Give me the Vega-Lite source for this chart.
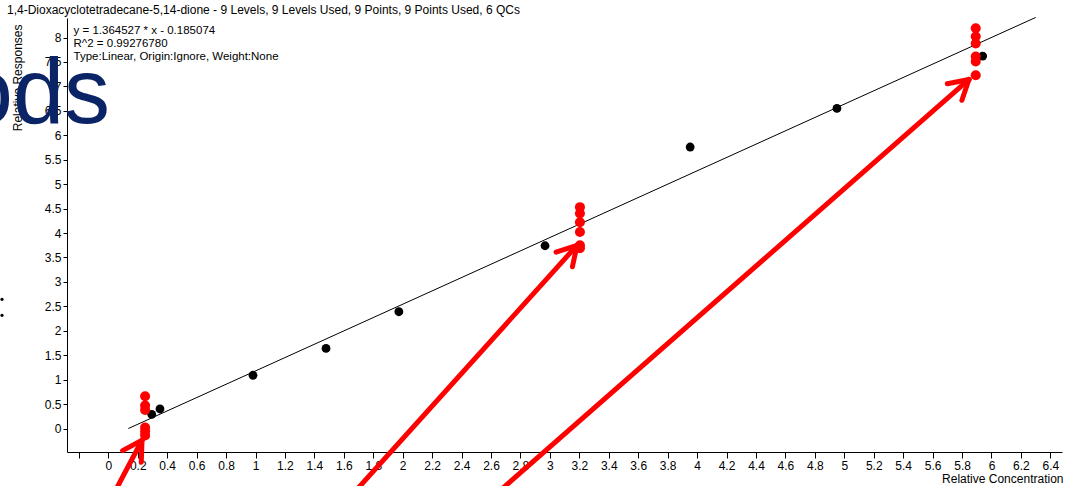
{
  "$schema": "https://vega.github.io/schema/vega-lite/v6.json",
  "width": 995,
  "height": 434,
  "autosize": {"type": "none"},
  "padding": {"left": 67, "top": 18, "right": 5, "bottom": 34},
  "background": "white",
  "config": {
    "view": {"stroke": null},
    "font": "Liberation Sans",
    "axis": {"labelOverlap": false, "labelFlush": false, "labelBound": false, "grid": false}
  },
  "title": {
    "text": "1,4-Dioxacyclotetradecane-5,14-dione - 9 Levels, 9 Levels Used, 9 Points, 9 Points Used, 6 QCs",
    "anchor": "start", "frame": "group", "dx": -60, "dy": 5, "offset": 3,
    "fontSize": 12, "fontWeight": "normal", "color": "#000", "font": "Liberation Sans"
  },
  "datasets": {
    "fit": [{"x": 0.136, "y": 0.0}, {"x": 6.30, "y": 8.411}],
    "std": [
      {"x": 0.295, "y": 0.29}, {"x": 0.351, "y": 0.40}, {"x": 0.983, "y": 1.09},
      {"x": 1.479, "y": 1.64}, {"x": 1.974, "y": 2.39}, {"x": 2.967, "y": 3.74},
      {"x": 3.953, "y": 5.76}, {"x": 4.95, "y": 6.55}, {"x": 5.94, "y": 7.62}
    ],
    "qc": [
      {"x": 0.25, "y": 0.66}, {"x": 0.25, "y": 0.47}, {"x": 0.25, "y": 0.38},
      {"x": 0.25, "y": 0.02}, {"x": 0.25, "y": -0.06}, {"x": 0.25, "y": -0.14},
      {"x": 3.204, "y": 4.53}, {"x": 3.204, "y": 4.40}, {"x": 3.204, "y": 4.22},
      {"x": 3.204, "y": 4.02}, {"x": 3.204, "y": 3.75}, {"x": 3.204, "y": 3.69},
      {"x": 5.893, "y": 8.19}, {"x": 5.893, "y": 8.02}, {"x": 5.893, "y": 7.88},
      {"x": 5.893, "y": 7.61}, {"x": 5.893, "y": 7.51}, {"x": 5.893, "y": 7.23}
    ],
    "arrows": [
      {"x": 0.043, "y": -1.30, "x2": 0.229, "y2": -0.24},
      {"x": 0.229, "y": -0.24, "x2": 0.097, "y2": -0.452},
      {"x": 0.229, "y": -0.24, "x2": 0.224, "y2": -0.689},
      {"x": 1.673, "y": -1.30, "x2": 3.184, "y2": 3.748},
      {"x": 3.184, "y": 3.748, "x2": 3.042, "y2": 3.609},
      {"x": 3.184, "y": 3.748, "x2": 3.153, "y2": 3.309},
      {"x": 2.650, "y": -1.30, "x2": 5.847, "y2": 7.143},
      {"x": 5.847, "y": 7.143, "x2": 5.700, "y2": 7.055},
      {"x": 5.847, "y": 7.143, "x2": 5.799, "y2": 6.716}
    ],
    "notes": [
      {"x": -0.236, "y": 8.07, "label": "y = 1.364527 * x  - 0.185074"},
      {"x": -0.236, "y": 7.80, "label": "R^2 = 0.99276780"},
      {"x": -0.236, "y": 7.54, "label": "Type:Linear, Origin:Ignore, Weight:None"}
    ],
    "overlay": [{"x": 0.012, "y": 6.26, "label": "ods"}],
    "dots": [{"x": -0.722, "y": 2.644}, {"x": -0.722, "y": 2.317}]
  },
  "encoding": {
    "x": {
      "field": "x", "type": "quantitative",
      "scale": {"domain": [-0.2806, 6.479], "nice": false, "zero": false},
      "axis": {
        "title": "Relative Concentration",
        "values": [-0.2, 0, 0.2, 0.4, 0.6, 0.8, 1, 1.2, 1.4, 1.6, 1.8, 2, 2.2, 2.4, 2.6, 2.8, 3, 3.2, 3.4, 3.6, 3.8, 4, 4.2, 4.4, 4.6, 4.8, 5, 5.2, 5.4, 5.6, 5.8, 6, 6.2, 6.4],
        "labelExpr": "datum.value < -0.1 ? '' : format(datum.value, '.1~f')",
        "labelOverlap": false,
        "domainColor": "#000", "tickColor": "#000", "tickSize": 6,
        "labelColor": "#000", "labelFontSize": 12, "labelPadding": 2,
        "titleAnchor": "end", "titleAlign": "right", "titleBaseline": "alphabetic",
        "titleX": 996, "titleY": 30, "titleFontSize": 12, "titleFontWeight": "normal", "titleColor": "#000"
      }
    },
    "y": {
      "field": "y", "type": "quantitative",
      "scale": {"domain": [-0.48, 8.4], "nice": false, "zero": false},
      "axis": {
        "title": "Relative Responses",
        "values": [0, 0.5, 1, 1.5, 2, 2.5, 3, 3.5, 4, 4.5, 5, 5.5, 6, 6.5, 7, 7.5, 8],
        "labelExpr": "format(datum.value, '.1~f')",
        "labelOverlap": false,
        "domainColor": "#000", "tickColor": "#000", "tickSize": 4,
        "labelColor": "#000", "labelFontSize": 12, "labelPadding": 2,
        "titleAnchor": "end", "titleAlign": "right", "titleBaseline": "bottom",
        "titleX": -43, "titleY": 6, "titleFontSize": 12, "titleFontWeight": "normal", "titleColor": "#000"
      }
    }
  },
  "layer": [
    {
      "data": {"name": "fit"},
      "mark": {"type": "line", "color": "#000", "strokeWidth": 1}
    },
    {
      "data": {"name": "std"},
      "mark": {"type": "circle", "color": "#000", "opacity": 1, "size": 78}
    },
    {
      "data": {"name": "qc"},
      "mark": {"type": "circle", "color": "#ff0000", "opacity": 1, "size": 100}
    },
    {
      "data": {"name": "arrows"},
      "mark": {"type": "rule", "color": "#ff0000", "strokeWidth": 5, "strokeCap": "round"},
      "encoding": {
        "x2": {"field": "x2"},
        "y2": {"field": "y2"}
      }
    },
    {
      "data": {"name": "notes"},
      "mark": {"type": "text", "align": "left", "baseline": "alphabetic", "fontSize": 11.5, "color": "#000"},
      "encoding": {
        "text": {"field": "label"}
      }
    },
    {
      "data": {"name": "overlay"},
      "mark": {"type": "text", "align": "right", "baseline": "alphabetic", "fontSize": 92, "color": "#0b2466", "font": "Liberation Sans"},
      "encoding": {
        "text": {"field": "label"}
      }
    },
    {
      "data": {"name": "dots"},
      "mark": {"type": "circle", "color": "#000", "opacity": 1, "size": 10}
    }
  ]
}
